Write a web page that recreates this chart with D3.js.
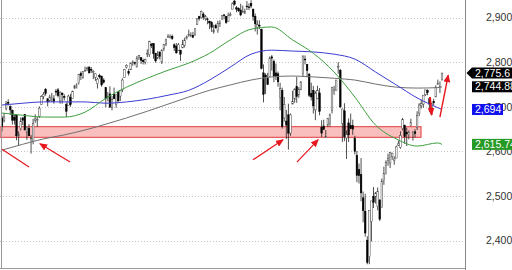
<!DOCTYPE html>
<html><head><meta charset="utf-8">
<script src="https://cdn.jsdelivr.net/npm/d3@7"></script>
<style>html,body{margin:0;padding:0;background:#fff;}svg{display:block;font-family:Arial,"Liberation Sans",sans-serif;}</style>
</head><body><svg id="c" width="512" height="270"></svg>
<script>
// Daily OHLC, Apr 13 2018 .. Feb 15 2019
const opens=[2675,2670,2697,2710,2701,2692,2676,2681,2634,2651,2675,2683,
2643,2652,2628,2622,2670,2671,2679,2705,2723,2739,2718,2713,2719,2718,2735,2738,2713,2731,2723,2705,2703,2721,
2719,2742,2748,2754,2775,2765,2780,2785,2789,2784,2777,2766,2752,2770,2769,2760,2743,2722,2729,2699,2728,
2705,2733,2724,2738,2766,2789,2779,2783,2797,2799,2789,2811,2810,2804,2800,2820,2817,2840,2842,2820,2809,
2822,2800,2830,2841,2855,2856,2858,2839,2836,2827,2827,2832,2838,2853,2861,2860,2860,2862,2885,2902,2900,2908,2898,
2897,2892,2889,2868,2882,2871,2888,2896,2906,2903,2891,2906,2919,2937,2922,2921,2917,2911,2910,
2926,2924,2932,2919,2903,2878,2883,2874,2776,2771,2763,2768,2812,2802,2776,2774,2721,2737,2675,2668,2682,2641,2706,
2717,2745,2727,2738,2775,2807,2795,2773,2730,2737,2693,2718,2731,2654,2657,2633,2659,2663,2692,2736,2737,
2790,2782,2663,2691,2630,2664,2658,2658,2629,2591,2559,2548,2496,2466,2401,2364,2443,2499,2498,
2477,2491,2474,2535,2568,2580,2574,2588,2580,2585,2614,2609,2651,2658,2643,2638,2658,2644,2644,2654,2686,
2702,2706,2727,2736,2718,2693,2712,2722,2750,2743,2760];
const highs=[2680,2686,2713,2717,2703,2694,2683,2683,2645,2676,2677,2683,
2655,2661,2637,2673,2683,2677,2701,2726,2733,2742,2719,2727,2731,2726,2740,2742,2734,2731,2728,2710,2727,2729,
2736,2749,2753,2773,2779,2779,2790,2790,2791,2789,2782,2775,2765,2774,2769,2764,2743,2733,2746,2724,2743,
2727,2736,2737,2764,2785,2795,2785,2799,2804,2801,2814,2816,2810,2808,2808,2829,2848,2843,2843,2821,2825,
2825,2829,2841,2853,2863,2862,2862,2842,2843,2843,2827,2850,2855,2860,2873,2867,2868,2876,2899,2904,2916,2912,2906,
2900,2893,2892,2884,2886,2893,2894,2906,2908,2904,2911,2912,2934,2941,2926,2923,2931,2927,2920,
2937,2932,2939,2920,2909,2894,2894,2875,2795,2775,2776,2813,2816,2806,2797,2779,2754,2743,2722,2693,2707,2685,2736,
2741,2767,2744,2757,2815,2815,2795,2776,2754,2747,2735,2747,2742,2670,2671,2648,2675,2685,2744,2747,2760,
2800,2785,2696,2708,2647,2674,2685,2671,2635,2601,2573,2585,2510,2505,2410,2468,2489,2520,2509,
2519,2493,2539,2566,2580,2595,2598,2597,2589,2613,2625,2645,2675,2660,2653,2647,2673,2645,2650,2690,2708,
2716,2724,2738,2739,2719,2708,2718,2748,2761,2757,2776];
const lows=[2645,2665,2692,2703,2682,2660,2660,2625,2612,2647,2659,2648,
2626,2635,2595,2616,2664,2655,2675,2704,2717,2725,2701,2712,2711,2707,2725,2721,2707,2707,2714,2677,2703,2700,
2719,2740,2741,2750,2760,2763,2779,2780,2775,2776,2762,2758,2741,2763,2745,2752,2699,2712,2699,2692,2718,
2698,2712,2713,2733,2766,2786,2770,2783,2792,2793,2789,2805,2796,2795,2795,2811,2812,2832,2808,2799,2807,
2806,2796,2825,2836,2855,2853,2850,2825,2819,2826,2803,2832,2833,2851,2857,2856,2854,2859,2884,2893,2898,2895,2893,
2885,2874,2868,2864,2875,2866,2879,2896,2896,2886,2891,2903,2919,2927,2912,2913,2903,2910,2908,
2917,2917,2921,2893,2869,2862,2874,2784,2710,2729,2749,2768,2781,2755,2760,2745,2692,2651,2667,2628,2604,2635,2706,
2709,2709,2720,2738,2767,2795,2766,2722,2714,2685,2670,2717,2681,2632,2649,2631,2655,2656,2685,2727,2737,
2774,2697,2621,2623,2583,2621,2650,2637,2593,2531,2528,2488,2441,2409,2347,2347,2398,2473,2483,
2468,2444,2474,2525,2548,2568,2563,2581,2570,2585,2612,2606,2647,2617,2612,2627,2657,2624,2631,2648,2679,
2696,2698,2724,2726,2688,2681,2703,2722,2749,2731,2760];
const closes=[2656,2677,2707,2708,2693,2670,2670,2635,2639,2667,2670,2648,
2655,2635,2630,2663,2673,2672,2697,2723,2728,2730,2711,2722,2720,2712,2733,2725,2733,2727,2721,2690,2724,2705,
2735,2747,2749,2772,2770,2779,2782,2787,2776,2782,2779,2774,2762,2767,2749,2755,2718,2723,2699,2716,2718,
2727,2713,2736,2760,2784,2793,2775,2798,2801,2798,2809,2815,2804,2801,2806,2820,2846,2837,2819,2803,2816,
2813,2827,2840,2850,2858,2857,2853,2833,2821,2839,2818,2840,2850,2857,2862,2861,2856,2875,2897,2898,2914,2901,2902,
2896,2888,2878,2872,2877,2887,2888,2904,2905,2889,2904,2907,2931,2930,2919,2915,2906,2914,2914,
2924,2923,2926,2902,2886,2884,2881,2786,2728,2767,2750,2809,2809,2769,2768,2756,2741,2656,2705,2659,2641,2682,2712,
2740,2723,2739,2756,2814,2806,2781,2726,2722,2702,2730,2736,2690,2641,2649,2633,2674,2682,2744,2738,2760,
2790,2700,2695,2633,2638,2637,2651,2650,2600,2546,2546,2507,2467,2417,2351,2468,2489,2486,2507,
2510,2448,2532,2550,2575,2585,2597,2596,2583,2610,2617,2636,2671,2633,2639,2643,2665,2644,2640,2681,2704,
2707,2725,2738,2732,2706,2708,2709,2744,2753,2746,2775.6];

// Moving averages sampled at bar indices
const maIdx=[0,10,20,30,40,50,60,70,80,90,100,110,120,130,140,150,160,170,180,190,200,210,212];
const ma50 =[2686,2681,2677,2677,2688,2719,2744,2764,2782,2798,2820,2850,2874,2879,2850,2820,2778,2722,2659,2628,2612,2619,2615.74];
const ma100=[2704,2708,2711,2711,2711,2708,2711,2717,2726,2737,2760,2789,2818,2827,2825,2823,2818,2807,2778,2749,2720,2698,2694];
const ma200=[2603,2616,2628,2637,2648,2661,2675,2690,2706,2722,2737,2749,2760,2767,2769,2767,2764,2760,2751,2744,2742,2743,2744.88];

const tickValues=[2400,2500,2600,2700,2800,2900];
const bandLow=2631.6, bandHigh=2655.4, bandStart=-1, bandEnd=201.9;

// annotation arrows: [fromIndex, fromPrice, toIndex, toPrice, head, width]
const arrowData=[
  [13.0,2565,0,2605,false,1.2],
  [32.8,2576,18.3,2617,true,1.2],
  [120.9,2581,135.4,2626,true,1.2],
  [142.1,2576,152.3,2626,true,1.2],
  [206.2,2722,207.0,2682,true,2],
  [211.0,2677,215.0,2771,true,1.4]
];
const valueLabels=[
  {v:2775.6,t:"2,775.6",c:"#000",ptr:true,w:45},
  {v:2744.88,t:"2,744.88",c:"#000",ptr:false,w:45},
  {v:2694,t:"2,694",c:"#1010f0",ptr:false,w:31},
  {v:2615.74,t:"2,615.74",c:"#259a25",ptr:false,w:45}
];

const svg=d3.select("#c");
const x=d3.scaleLinear().domain([0,212]).range([2,442]);
const y=d3.scaleLinear().domain([2400,2900]).range([240.6,17.6]);
const plotR=465, plotB=268.5;

svg.append("rect").attr("width",512).attr("height",270).attr("fill","#fff");

// grid
svg.append("g").selectAll("line").data(tickValues).join("line")
  .attr("x1",0).attr("x2",plotR).attr("y1",d=>Math.round(y(d))+0.5).attr("y2",d=>Math.round(y(d))+0.5)
  .attr("stroke","#c4c4c4").attr("stroke-dasharray","1,2");

// band
svg.append("rect").attr("x",x(bandStart)).attr("width",x(bandEnd)-x(bandStart))
  .attr("y",y(bandHigh)).attr("height",y(bandLow)-y(bandHigh))
  .attr("fill","#f7a8a8").attr("fill-opacity",0.75).attr("stroke","#e23c3c").attr("stroke-width",1);

// candles
const bars=d3.range(closes.length);
const bw=1.6;
const cg=svg.append("g");
cg.selectAll("line").data(bars).join("line")
  .attr("x1",i=>x(i)).attr("x2",i=>x(i)).attr("y1",i=>y(highs[i])).attr("y2",i=>y(lows[i]))
  .attr("stroke","#222").attr("stroke-width",0.8);
cg.selectAll("rect").data(bars).join("rect")
  .attr("x",i=>x(i)-bw/2).attr("width",bw)
  .attr("y",i=>y(Math.max(opens[i],closes[i])))
  .attr("height",i=>Math.max(0.8,Math.abs(y(opens[i])-y(closes[i]))))
  .attr("fill",i=>closes[i]<opens[i]?"#000":"#fff")
  .attr("stroke",i=>closes[i]<opens[i]?"#000":"#444").attr("stroke-width",0.5);

// moving averages
const line=d3.line().x((d,k)=>x(maIdx[k])).y(d=>y(d)).curve(d3.curveMonotoneX);
[[ma200,"#707070"],[ma100,"#3c3cd2"],[ma50,"#3f9f3f"]].forEach(([s,c])=>{
  svg.append("path").attr("d",line(s)).attr("fill","none").attr("stroke",c).attr("stroke-width",1);
});

// arrows
const defs=svg.append("defs");
defs.append("marker").attr("id","ah").attr("markerUnits","userSpaceOnUse")
  .attr("markerWidth",8).attr("markerHeight",7).attr("refX",7).attr("refY",3.5).attr("orient","auto")
  .append("path").attr("d","M0,0L8,3.5L0,7Z").attr("fill","#e8161e");
svg.append("g").selectAll("line").data(arrowData).join("line")
  .attr("x1",d=>x(d[0])).attr("y1",d=>y(d[1])).attr("x2",d=>x(d[2])).attr("y2",d=>y(d[3]))
  .attr("stroke","#e8161e").attr("stroke-width",d=>d[5])
  .attr("marker-end",d=>d[4]?"url(#ah)":null);

// axis lines
svg.append("line").attr("x1",1.5).attr("x2",1.5).attr("y1",0).attr("y2",plotB).attr("stroke","#999");
svg.append("line").attr("x1",plotR+0.5).attr("x2",plotR+0.5).attr("y1",0).attr("y2",270).attr("stroke","#8a8a8a");
svg.append("line").attr("x1",0).attr("x2",plotR).attr("y1",plotB).attr("y2",plotB).attr("stroke","#999");

// right axis labels
const ax=svg.append("g").attr("transform",`translate(${plotR},0)`)
  .call(d3.axisRight(y).tickValues(tickValues).tickFormat(d3.format(",")).tickSize(0).tickPadding(21));
ax.select(".domain").remove();
ax.attr("font-family","Arial, 'Liberation Sans', sans-serif").attr("font-size",10.5);
ax.selectAll("text").attr("fill","#333");

// value boxes
const vg=svg.append("g");
valueLabels.forEach(l=>{
  const yc=y(l.v), h=11;
  if(l.ptr){
    vg.append("path").attr("d",`M466.5,${yc}L472,${yc-h/2}L${472+l.w},${yc-h/2}L${472+l.w},${yc+h/2}L472,${yc+h/2}Z`).attr("fill",l.c);
  } else {
    vg.append("rect").attr("x",472).attr("y",yc-h/2).attr("width",l.w).attr("height",h).attr("fill",l.c);
  }
  vg.append("text").attr("x",475).attr("y",yc+3.7).attr("fill","#fff").attr("font-size",10.5).text(l.t);
});
</script></body></html>
